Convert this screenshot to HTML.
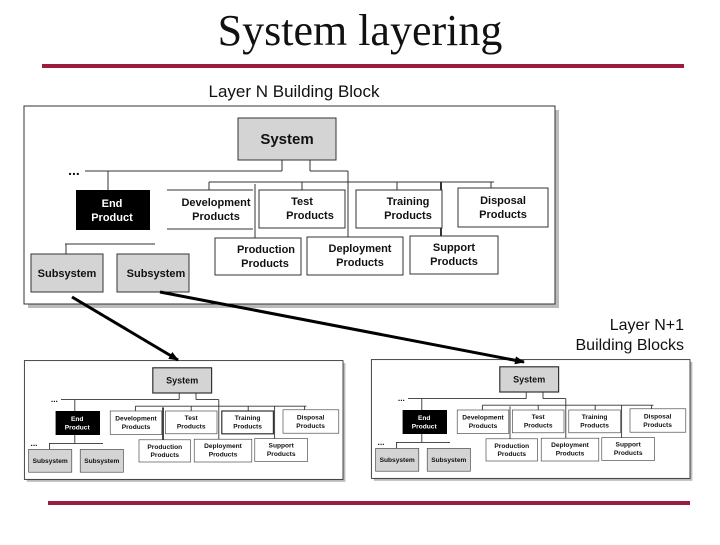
<!DOCTYPE html>
<html><head><meta charset="utf-8"><style>
body{margin:0;background:#fff;width:720px;height:540px;overflow:hidden}
svg text{font-family:"Liberation Sans",Arial,sans-serif;font-weight:bold;text-anchor:middle;fill:#111}
</style></head><body>
<svg width="720" height="540" viewBox="0 0 720 540" xmlns="http://www.w3.org/2000/svg">
<defs>
<marker id="ah" markerWidth="10" markerHeight="8" refX="9" refY="4" orient="auto" markerUnits="userSpaceOnUse">
<path d="M0,0 L10,4 L0,8 z" fill="#000"/></marker>
</defs>
<text x="360" y="45" style="font-family:'Liberation Serif',serif;font-weight:normal;font-size:44px">System layering</text>
<rect x="42" y="64" width="642" height="4" fill="#9b1c3c"/>
<rect x="48" y="501" width="642" height="4" fill="#9b1c3c"/>
<text x="294" y="97" style="font-weight:normal;font-size:17px">Layer N Building Block</text>
<text x="684" y="330" style="font-weight:normal;font-size:16px;text-anchor:end">Layer N+1</text>
<text x="684" y="350" style="font-weight:normal;font-size:16px;text-anchor:end">Building Blocks</text>

<g id="big">
<rect x="28" y="110" width="531" height="198" fill="#bbb"/>
<rect x="24" y="106" width="531" height="198" fill="#fff" stroke="#333" stroke-width="1"/>
<g stroke="#333" stroke-width="1" fill="none">
<line x1="85" y1="171" x2="282" y2="171"/><line x1="282" y1="160" x2="282" y2="171"/>
<line x1="310" y1="160" x2="310" y2="171"/><line x1="310" y1="171" x2="348" y2="171"/>
<line x1="108" y1="171" x2="108" y2="190"/>
<line x1="209" y1="182" x2="494" y2="182"/>
<line x1="209" y1="182" x2="209" y2="190"/><line x1="302" y1="182" x2="302" y2="190"/>
<line x1="397" y1="182" x2="397" y2="190"/><line x1="491" y1="182" x2="491" y2="188"/>
<line x1="255" y1="184" x2="255" y2="238"/><line x1="348" y1="171" x2="348" y2="238"/>
<line x1="441" y1="182" x2="441" y2="236" stroke-width="2"/>
<line x1="65" y1="244" x2="155" y2="244"/><line x1="66" y1="244" x2="66" y2="254"/>
</g>
<text x="74" y="175" style="font-size:14px">...</text>
<rect x="238" y="118" width="98" height="42" fill="#d4d4d4" stroke="#333"/><text x="287" y="144" style="font-size:15px">System</text>
<rect x="76" y="190" width="74" height="40" fill="#000"/><text x="112" y="207" style="font-size:11px;fill:#fff">End</text><text x="112" y="221" style="font-size:11px;fill:#fff">Product</text>
<line x1="167" y1="190" x2="253" y2="190" stroke="#333"/><line x1="167" y1="229" x2="253" y2="229" stroke="#333"/>
<text x="216" y="206" style="font-size:11px">Development</text><text x="216" y="220" style="font-size:11px">Products</text>
<rect x="259" y="190" width="86" height="38" fill="#fff" stroke="#333"/><text x="302" y="205" style="font-size:11px">Test</text><text x="310" y="219" style="font-size:11px">Products</text>
<rect x="356" y="190" width="86" height="38" fill="#fff" stroke="#333"/><text x="408" y="205" style="font-size:11px">Training</text><text x="408" y="219" style="font-size:11px">Products</text>
<rect x="458" y="188" width="90" height="39" fill="#fff" stroke="#333"/><text x="503" y="204" style="font-size:11px">Disposal</text><text x="503" y="218" style="font-size:11px">Products</text>
<rect x="215" y="238" width="86" height="37" fill="#fff" stroke="#333"/><text x="266" y="253" style="font-size:11px">Production</text><text x="265" y="267" style="font-size:11px">Products</text>
<rect x="307" y="237" width="96" height="38" fill="#fff" stroke="#333"/><text x="360" y="252" style="font-size:11px">Deployment</text><text x="360" y="266" style="font-size:11px">Products</text>
<rect x="410" y="236" width="88" height="38" fill="#fff" stroke="#333"/><text x="454" y="251" style="font-size:11px">Support</text><text x="454" y="265" style="font-size:11px">Products</text>
<rect x="31" y="254" width="72" height="38" fill="#d4d4d4" stroke="#333"/><text x="67" y="277" style="font-size:11px">Subsystem</text>
<rect x="117" y="254" width="72" height="38" fill="#d4d4d4" stroke="#333"/><text x="156" y="277" style="font-size:11px">Subsystem</text>
</g>

<g transform="translate(10,297) scale(0.6)">
<rect x="28" y="110" width="531" height="198" fill="#bbb"/>
<rect x="24" y="106" width="531" height="198" fill="#fff" stroke="#333" stroke-width="1.5"/>
<g stroke="#333" stroke-width="1.5" fill="none">
<line x1="85" y1="171" x2="282" y2="171"/><line x1="282" y1="160" x2="282" y2="171"/>
<line x1="310" y1="160" x2="310" y2="171"/><line x1="310" y1="171" x2="348" y2="171"/>
<line x1="108" y1="171" x2="108" y2="190"/>
<line x1="209" y1="182" x2="494" y2="182"/>
<line x1="209" y1="182" x2="209" y2="190"/><line x1="302" y1="182" x2="302" y2="190"/>
<line x1="397" y1="182" x2="397" y2="190"/><line x1="491" y1="182" x2="491" y2="188"/>
<line x1="255" y1="184" x2="255" y2="238" stroke-width="3"/><line x1="348" y1="171" x2="348" y2="238"/>
<line x1="441" y1="182" x2="441" y2="236"/>
<line x1="65" y1="244" x2="155" y2="244"/><line x1="66" y1="244" x2="66" y2="254"/><line x1="108" y1="230" x2="108" y2="244"/>
</g>
<text x="74" y="175" style="font-size:14px">...</text><text x="40" y="248" style="font-size:14px">...</text>
<rect x="238" y="118" width="98" height="42" fill="#d4d4d4" stroke="#333" stroke-width="2"/><text x="287" y="144" style="font-size:15px">System</text>
<rect x="76" y="190" width="74" height="40" fill="#000"/><text x="112" y="207" style="font-size:11px;fill:#fff">End</text><text x="112" y="221" style="font-size:11px;fill:#fff">Product</text>
<rect x="167" y="190" width="86" height="39" fill="#fff" stroke="#333"/>
<text x="210" y="206" style="font-size:11px">Development</text><text x="210" y="220" style="font-size:11px">Products</text>
<rect x="259" y="190" width="86" height="38" fill="#fff" stroke="#333"/><text x="302" y="205" style="font-size:11px">Test</text><text x="302" y="219" style="font-size:11px">Products</text>
<rect x="353" y="190" width="86" height="38" fill="#fff" stroke="#333" stroke-width="2"/><text x="396" y="205" style="font-size:11px">Training</text><text x="396" y="219" style="font-size:11px">Products</text>
<rect x="455" y="188" width="93" height="39" fill="#fff" stroke="#333"/><text x="501" y="204" style="font-size:11px">Disposal</text><text x="501" y="218" style="font-size:11px">Products</text>
<rect x="215" y="238" width="86" height="37" fill="#fff" stroke="#333"/><text x="258" y="253" style="font-size:11px">Production</text><text x="258" y="267" style="font-size:11px">Products</text>
<rect x="307" y="237" width="96" height="38" fill="#fff" stroke="#333"/><text x="355" y="252" style="font-size:11px">Deployment</text><text x="355" y="266" style="font-size:11px">Products</text>
<rect x="408" y="236" width="88" height="38" fill="#fff" stroke="#333"/><text x="452" y="251" style="font-size:11px">Support</text><text x="452" y="265" style="font-size:11px">Products</text>
<rect x="31" y="254" width="72" height="38" fill="#d4d4d4" stroke="#333"/><text x="67" y="277" style="font-size:11px">Subsystem</text>
<rect x="117" y="254" width="72" height="38" fill="#d4d4d4" stroke="#333"/><text x="153" y="277" style="font-size:11px">Subsystem</text>
</g>

<g transform="translate(357,296) scale(0.6)">
<rect x="28" y="110" width="531" height="198" fill="#bbb"/>
<rect x="24" y="106" width="531" height="198" fill="#fff" stroke="#333" stroke-width="1.5"/>
<g stroke="#333" stroke-width="1.5" fill="none">
<line x1="85" y1="171" x2="282" y2="171"/><line x1="282" y1="160" x2="282" y2="171"/>
<line x1="310" y1="160" x2="310" y2="171"/><line x1="310" y1="171" x2="348" y2="171"/>
<line x1="108" y1="171" x2="108" y2="190"/>
<line x1="209" y1="182" x2="494" y2="182"/>
<line x1="209" y1="182" x2="209" y2="190"/><line x1="302" y1="182" x2="302" y2="190"/>
<line x1="397" y1="182" x2="397" y2="190"/><line x1="491" y1="182" x2="491" y2="188"/>
<line x1="255" y1="184" x2="255" y2="238"/><line x1="348" y1="171" x2="348" y2="238"/>
<line x1="441" y1="182" x2="441" y2="236"/>
<line x1="65" y1="244" x2="155" y2="244"/><line x1="66" y1="244" x2="66" y2="254"/><line x1="108" y1="230" x2="108" y2="244"/>
</g>
<text x="74" y="175" style="font-size:14px">...</text><text x="40" y="248" style="font-size:14px">...</text>
<rect x="238" y="118" width="98" height="42" fill="#d4d4d4" stroke="#333" stroke-width="2"/><text x="287" y="144" style="font-size:15px">System</text>
<rect x="76" y="190" width="74" height="40" fill="#000"/><text x="112" y="207" style="font-size:11px;fill:#fff">End</text><text x="112" y="221" style="font-size:11px;fill:#fff">Product</text>
<rect x="167" y="190" width="86" height="39" fill="#fff" stroke="#333"/>
<text x="210" y="206" style="font-size:11px">Development</text><text x="210" y="220" style="font-size:11px">Products</text>
<rect x="259" y="190" width="86" height="38" fill="#fff" stroke="#333"/><text x="302" y="205" style="font-size:11px">Test</text><text x="302" y="219" style="font-size:11px">Products</text>
<rect x="353" y="190" width="86" height="38" fill="#fff" stroke="#333"/><text x="396" y="205" style="font-size:11px">Training</text><text x="396" y="219" style="font-size:11px">Products</text>
<rect x="455" y="188" width="93" height="39" fill="#fff" stroke="#333"/><text x="501" y="204" style="font-size:11px">Disposal</text><text x="501" y="218" style="font-size:11px">Products</text>
<rect x="215" y="238" width="86" height="37" fill="#fff" stroke="#333"/><text x="258" y="253" style="font-size:11px">Production</text><text x="258" y="267" style="font-size:11px">Products</text>
<rect x="307" y="237" width="96" height="38" fill="#fff" stroke="#333"/><text x="355" y="252" style="font-size:11px">Deployment</text><text x="355" y="266" style="font-size:11px">Products</text>
<rect x="408" y="236" width="88" height="38" fill="#fff" stroke="#333"/><text x="452" y="251" style="font-size:11px">Support</text><text x="452" y="265" style="font-size:11px">Products</text>
<rect x="31" y="254" width="72" height="38" fill="#d4d4d4" stroke="#333"/><text x="67" y="277" style="font-size:11px">Subsystem</text>
<rect x="117" y="254" width="72" height="38" fill="#d4d4d4" stroke="#333"/><text x="153" y="277" style="font-size:11px">Subsystem</text>
</g>

<line x1="72" y1="297" x2="178" y2="360" stroke="#000" stroke-width="3" marker-end="url(#ah)"/>
<line x1="160" y1="292" x2="524" y2="362" stroke="#000" stroke-width="3" marker-end="url(#ah)"/>
</svg>
</body></html>
